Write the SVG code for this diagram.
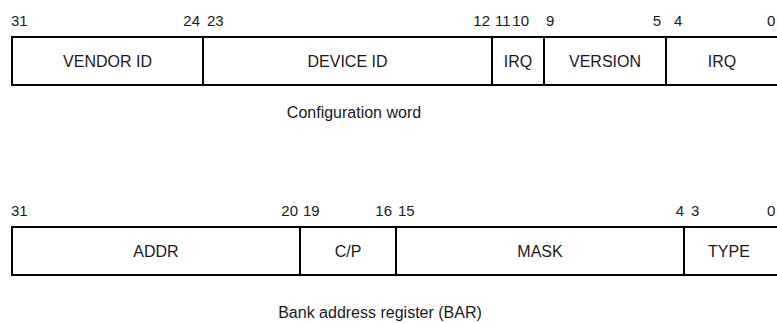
<svg xmlns="http://www.w3.org/2000/svg" width="777" height="323" viewBox="0 0 777 323">
<style>
.box{fill:none;stroke:#000;stroke-width:2}
.div{stroke:#000;stroke-width:2}
.lbl{font-family:"Liberation Sans",Arial,sans-serif;font-size:16px;fill:#1a1a1a;text-anchor:middle}
.bit{font-family:"Liberation Sans",Arial,sans-serif;font-size:15px;fill:#1a1a1a}
.end{text-anchor:end}
.cap{font-family:"Liberation Sans",Arial,sans-serif;font-size:16px;fill:#1a1a1a;text-anchor:middle}
</style>
<rect width="777" height="323" fill="#fff"/>
<g id="config-word">
<rect class="box" x="12" y="37" width="768" height="48"/>
<line class="div" x1="203" y1="37" x2="203" y2="85"/>
<line class="div" x1="492" y1="37" x2="492" y2="85"/>
<line class="div" x1="544" y1="37" x2="544" y2="85"/>
<line class="div" x1="666" y1="37" x2="666" y2="85"/>
<text class="lbl" x="107.5" y="66.5">VENDOR ID</text>
<text class="lbl" x="347.5" y="66.5">DEVICE ID</text>
<text class="lbl" x="518" y="66.5">IRQ</text>
<text class="lbl" x="605" y="66.5">VERSION</text>
<text class="lbl" x="722" y="66.5">IRQ</text>
<text class="bit" x="11" y="25.5">31</text>
<text class="bit end" x="200" y="25.5">24</text>
<text class="bit" x="207" y="25.5">23</text>
<text class="bit end" x="490" y="25.5">12</text>
<text class="bit" x="495" y="25.5">11</text>
<text class="bit end" x="529" y="25.5">10</text>
<text class="bit" x="546" y="25.5">9</text>
<text class="bit end" x="661" y="25.5">5</text>
<text class="bit" x="674" y="25.5">4</text>
<text class="bit" x="767" y="25.5">0</text>
<text class="cap" x="354" y="118">Configuration word</text>
</g>
<g id="bar">
<rect class="box" x="12" y="227" width="768" height="48"/>
<line class="div" x1="300" y1="227" x2="300" y2="275"/>
<line class="div" x1="396" y1="227" x2="396" y2="275"/>
<line class="div" x1="684" y1="227" x2="684" y2="275"/>
<text class="lbl" x="156" y="256.5">ADDR</text>
<text class="lbl" x="348" y="256.5">C/P</text>
<text class="lbl" x="540" y="256.5">MASK</text>
<text class="lbl" x="729" y="256.5">TYPE</text>
<text class="bit" x="11" y="215.5">31</text>
<text class="bit end" x="298" y="215.5">20</text>
<text class="bit" x="303" y="215.5">19</text>
<text class="bit end" x="392" y="215.5">16</text>
<text class="bit" x="398" y="215.5">15</text>
<text class="bit end" x="684" y="215.5">4</text>
<text class="bit" x="691" y="215.5">3</text>
<text class="bit" x="767" y="215.5">0</text>
<text class="cap" x="380" y="318">Bank address register (BAR)</text>
</g>
</svg>
